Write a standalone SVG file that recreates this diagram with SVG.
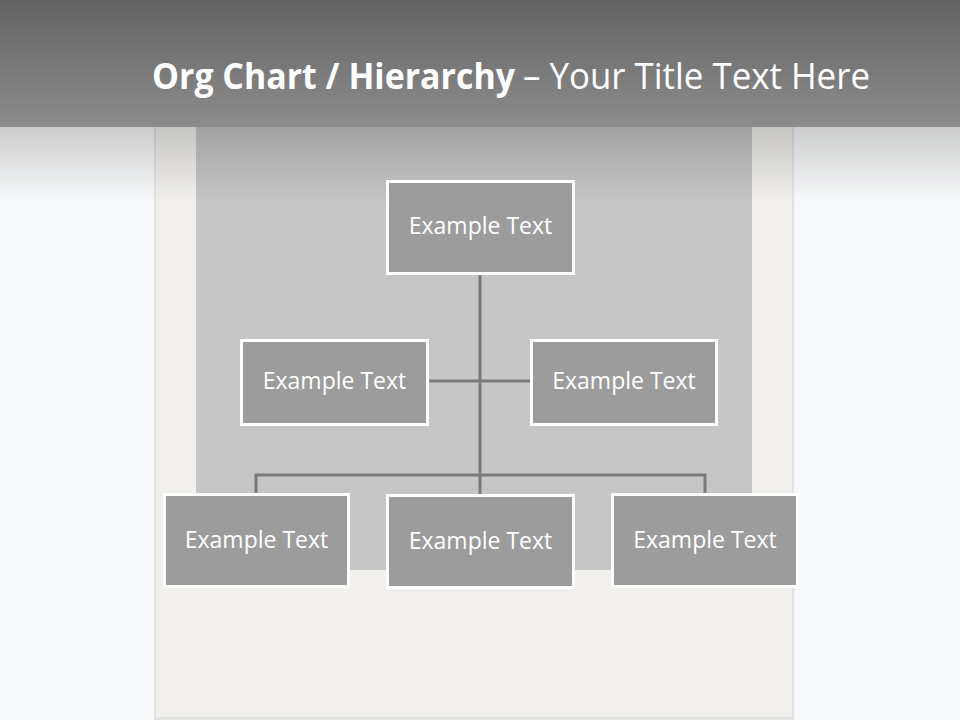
<svg xmlns="http://www.w3.org/2000/svg" width="960" height="720" viewBox="0 0 960 720">
<defs>
<linearGradient id="hdr" x1="0" y1="0" x2="0" y2="1">
<stop offset="0" stop-color="#636363"/>
<stop offset="1" stop-color="#8c8c8c"/>
</linearGradient>
<linearGradient id="shade" x1="0" y1="0" x2="0" y2="1">
<stop offset="0" stop-color="#000" stop-opacity="0.18"/>
<stop offset="1" stop-color="#000" stop-opacity="0"/>
</linearGradient>
<style>
.node rect{fill:#9c9c9c;stroke:#ffffff;stroke-width:3}
.node text{fill:#ffffff;font-family:"Open Sans","DejaVu Sans",sans-serif;font-size:23px;text-anchor:middle}
.conn{stroke:#7a7a7a;stroke-width:3;fill:none}
.title{fill:#ffffff;font-family:"Open Sans","Liberation Sans",sans-serif;font-size:36px}
</style>
</defs>
<rect x="0" y="0" width="960" height="720" fill="#f7f8f9"/>
<!-- paper panel -->
<rect x="154" y="120" width="640" height="600" fill="#e2e2e2"/>
<rect x="156" y="120" width="636" height="597" fill="#f1f0ed"/>
<!-- inner gray panel -->
<rect x="196" y="120" width="556" height="450" fill="#c6c6c6"/>
<!-- shadow below header -->
<rect x="0" y="127" width="960" height="75" fill="url(#shade)"/>
<!-- header -->
<rect x="0" y="0" width="960" height="127" fill="url(#hdr)"/>
<text class="title" x="152" y="89" font-weight="bold" textLength="363" lengthAdjust="spacingAndGlyphs">Org Chart / Hierarchy</text>
<text class="title" x="523" y="89" textLength="347" lengthAdjust="spacingAndGlyphs">– Your Title Text Here</text>
<g id="connectors">
<line class="conn" x1="480" y1="274" x2="480" y2="495"/>
<line class="conn" x1="427" y1="381" x2="531" y2="381"/>
<polyline class="conn" points="256,494 256,475 705,475 705,494"/>
</g>
<g id="node-top" class="node"><rect x="387.5" y="181.5" width="186" height="92"/><text x="480.5" y="234">Example Text</text></g>
<g id="node-mid-left" class="node"><rect x="241.5" y="340.5" width="186" height="84"/><text x="334.5" y="389">Example Text</text></g>
<g id="node-mid-right" class="node"><rect x="531.5" y="340.5" width="185" height="84"/><text x="624" y="389">Example Text</text></g>
<g id="node-bot-left" class="node"><rect x="164.5" y="494.5" width="184" height="92"/><text x="256.5" y="548">Example Text</text></g>
<g id="node-bot-center" class="node"><rect x="387.5" y="495.5" width="186" height="92"/><text x="480.5" y="549">Example Text</text></g>
<g id="node-bot-right" class="node"><rect x="612.5" y="494.5" width="185" height="92"/><text x="705" y="548">Example Text</text></g>
</svg>
